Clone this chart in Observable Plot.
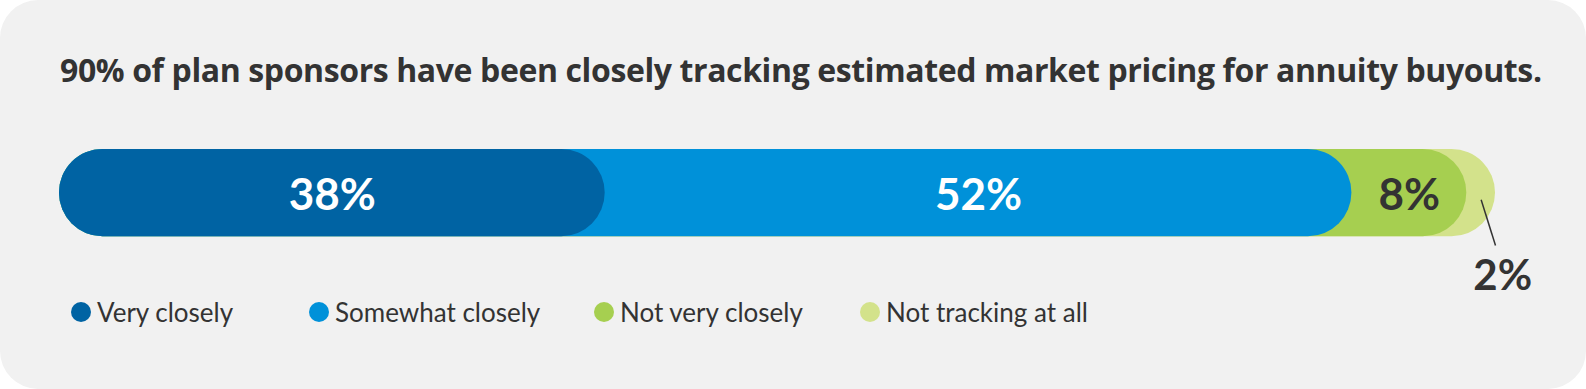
<!DOCTYPE html>
<html>
<head>
<meta charset="utf-8">
<script src="https://cdn.jsdelivr.net/npm/d3@7"></script>
<script src="https://cdn.jsdelivr.net/npm/@observablehq/plot@0.6"></script>
<style>
  html, body { margin: 0; padding: 0; background: #ffffff; }
  #card {
    position: relative; width: 1586px; height: 389px; background: #f1f1f1;
    border-radius: 38px; overflow: hidden; font-family: Lato, "Open Sans", sans-serif; color: #333333;
  }
  #title {
    position: absolute; left: 60px; top: 54px; font-family: "Open Sans", Lato, sans-serif; font-size: 32px; font-weight: 700;
    line-height: 1; white-space: nowrap; color: #333333;
  }
  #chart { position: absolute; left: 0; top: 120px; }
  .item { position: absolute; top: 300px; height: 24px; display: flex; align-items: center; }
  .dot { width: 20px; height: 20px; border-radius: 50%; margin-right: 6px; }
  .lab { font-size: 26px; line-height: 24px; color: #333333; white-space: nowrap; }
</style>
</head>
<body>
<div id="card">
  <div id="title">90% of plan sponsors have been closely tracking estimated market pricing for annuity buyouts.</div>
  <div id="chart"></div>
</div>
<script>
// ---- data ----
const categories = ["Very closely", "Somewhat closely", "Not very closely", "Not tracking at all"];
const values = [38, 52, 8, 2];
const colors = ["#0063a3", "#0091d9", "#a6cf50", "#d3e28b"];
const darkLabelCategories = ["Not very closely", "Not tracking at all"];
// ---- layout ----
const legendLeft = [71, 309, 594, 860];
const barRadius = 43.5;

// build rows with cumulative extents
let acc = 0;
const rows = categories.map((c, i) => {
  const start = acc; acc += values[i];
  return {category: c, value: values[i], start, end: acc, mid: (start + acc) / 2};
});
const drawOrder = rows.slice().reverse();
const inside = rows.filter(d => d.value >= 5);
const outside = rows.filter(d => d.value < 5);

const chart = Plot.plot({
  width: 1586, height: 186,
  marginTop: 29, marginBottom: 0, marginLeft: 59, marginRight: 91,
  x: {domain: [0, 100], axis: null},
  y: {domain: [-1.3, 0.5], axis: null},
  color: {domain: categories, range: colors},
  style: {background: "transparent", fontFamily: "Lato, 'Open Sans', sans-serif", overflow: "visible"},
  marks: [
    Plot.rect(drawOrder, {x1: 0, x2: "end", y1: -0.5, y2: 0.5, fill: "category", rx: barRadius}),
    Plot.text(inside, {
      x: "mid", y: 0, text: d => d.value + "%",
      fill: d => darkLabelCategories.includes(d.category) ? "#333333" : "#ffffff",
      fontSize: 44, fontWeight: 700, dy: 3
    }),
    Plot.link(outside, {x1: "mid", x2: "end", y1: -0.075, y2: -0.6, stroke: "#333333", strokeWidth: 1.5}),
    Plot.text(outside, {
      x: d => d.end + 0.5, y: -0.96, text: d => d.value + "%",
      fill: "#333333", fontSize: 42, fontWeight: 700
    })
  ]
});
document.getElementById("chart").appendChild(chart);

// legend
const card = document.getElementById("card");
categories.forEach((c, i) => {
  const item = document.createElement("div");
  item.className = "item";
  item.style.left = legendLeft[i] + "px";
  const dot = document.createElement("div");
  dot.className = "dot";
  dot.style.background = colors[i];
  const lab = document.createElement("div");
  lab.className = "lab";
  lab.textContent = c;
  item.appendChild(dot); item.appendChild(lab);
  card.appendChild(item);
});

// fit title to its reference width via letter-spacing
const title = document.getElementById("title");
const targetW = 1482;
const w = title.getBoundingClientRect().width;
const n = title.textContent.length;
title.style.letterSpacing = ((targetW - w) / (n - 1)) + "px";
</script>
</body>
</html>
